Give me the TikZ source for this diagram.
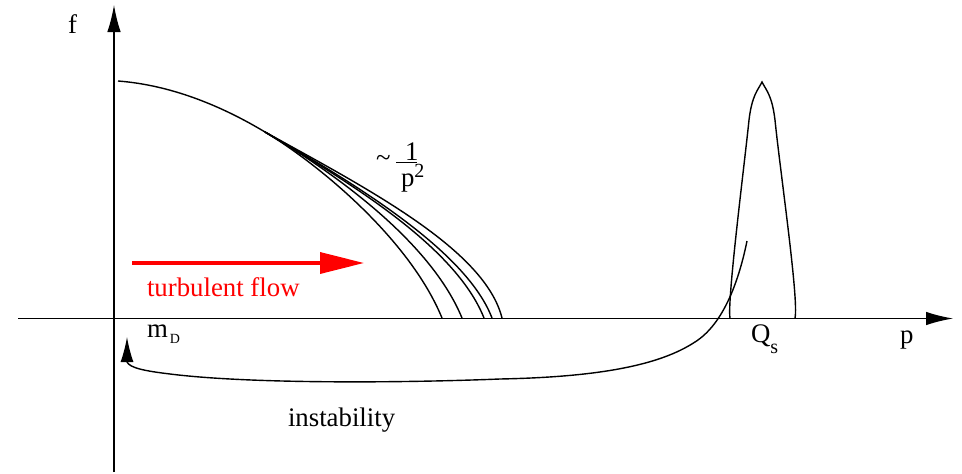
\documentclass[tikz,border=0pt]{standalone}
\usepackage{fontspec}
\setmainfont{Liberation Serif}
\usetikzlibrary{arrows.meta}
\begin{document}
\begin{tikzpicture}[x=1pt,y=-1pt,
  lbl/.style={inner sep=0pt,outer sep=0pt,anchor=base west,font=\fontsize{26.8}{28}\selectfont},
  axis/.style={line width=1.3pt,-{Latex[length=27pt,width=13.5pt]}},
  crv/.style={line width=1.4pt},
  redarrow/.style={red,line width=3.5pt,-{Triangle[length=44pt,width=21pt]}},
  instab/.style={line width=1.4pt,-{Latex[length=25pt,width=13pt]}}]
\useasboundingbox (0,0) rectangle (962,474);
% axes
\coordinate (yb) at (114,472);
\coordinate (yt) at (114,5);
\coordinate (xl) at (18,318.5);
\coordinate (xr) at (953,318.5);
\draw[axis] (yb) -- (yt);
\draw[axis] (xl) -- (xr);
\node[lbl] (f) at (68,33) {f};
\node[lbl] (p) at (900,343) {p};
% distribution curves
\coordinate (c0) at (118,81);
\coordinate (cs) at (265,132);
\draw[crv] (c0) .. controls (170,85) and (220,105) .. (cs);
\coordinate (e1) at (442,318);
\coordinate (e2) at (462,318);
\coordinate (e3) at (484,318);
\coordinate (e4) at (492,318);
\coordinate (e5) at (502,318);
\draw[crv] (cs) .. controls (320,165) and (410,240) .. (e1);
\draw[crv] (cs) .. controls (330,170) and (430,240) .. (e2);
\draw[crv] (cs) .. controls (345,180) and (455,245) .. (e3);
\draw[crv] (cs) .. controls (352,182) and (466,250) .. (e4);
\draw[crv] (cs) .. controls (370,190) and (485,250) .. (e5);
% 1/p^2 label
\node[lbl] (tl) at (376,166) {\textasciitilde};
\node[lbl] (one) at (405,160) {1};
\coordinate (b1) at (396,162.5);
\coordinate (b2) at (417,162.5);
\draw[line width=1pt] (b1) -- (b2);
\node[lbl] (pp) at (401,186) {p\raisebox{9pt}{\fontsize{20}{20}\selectfont 2}};
% turbulent flow
\coordinate (r1) at (132,263);
\coordinate (r2) at (364,263);
\draw[redarrow] (r1) -- (r2);
\node[lbl,text=red] (tf) at (147,296) {turbulent flow};
% m_D
\node[lbl] (md) at (147,337) {m\hspace{2pt}\raisebox{-6pt}{\fontsize{14}{14}\selectfont D}};
% peak
\coordinate (q0) at (730,318);
\coordinate (qt) at (762,82);
\coordinate (q1) at (795,318);
\draw[crv] (q0) .. controls (727,300) and (745,160) .. (749,120)
  .. controls (752,95) and (758,90) .. (qt)
  .. controls (766,90) and (772,95) .. (775,120)
  .. controls (780,170) and (799,300) .. (q1);
\node[lbl] (qs) at (751,342) {Q\raisebox{-11pt}{\fontsize{20}{20}\selectfont s}};
% instability
\coordinate (i0) at (747,241);
\coordinate (i1) at (127,337);
\draw[instab] (i0) .. controls (738,285) and (722,325) .. (695,342)
  .. controls (660,365) and (600,377) .. (500,379)
  .. controls (400,383) and (250,384) .. (170,374)
  .. controls (145,371) and (130,368) .. (127,362) -- (i1);
\node[lbl] (ins) at (288,426) {instability};
\end{tikzpicture}
\end{document}
